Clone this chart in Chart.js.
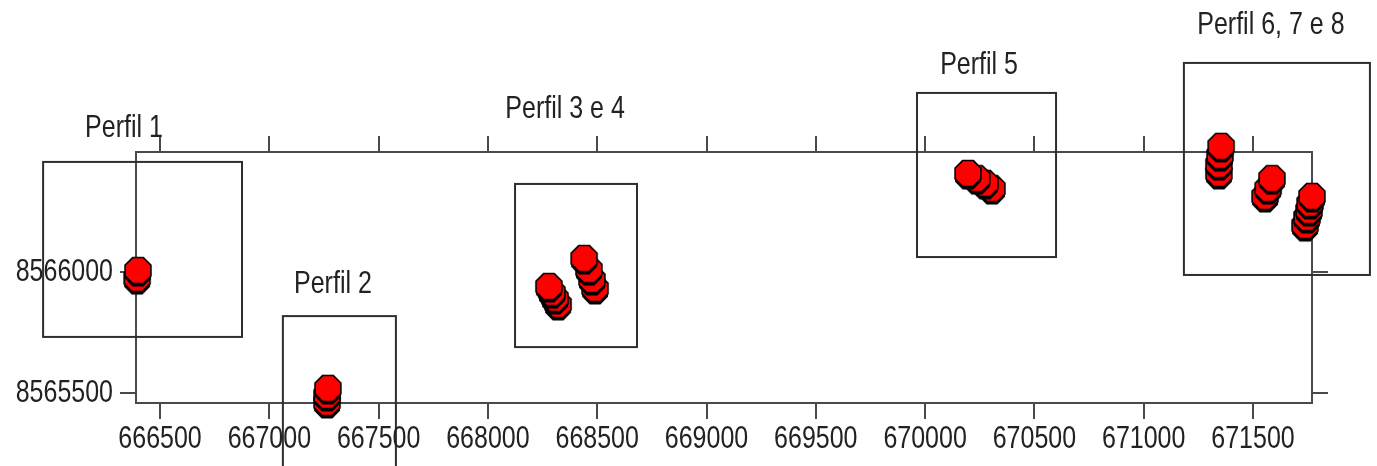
<!DOCTYPE html>
<html>
<head>
<meta charset="utf-8">
<script src="https://cdn.jsdelivr.net/npm/chart.js@4"></script>
<style>
  html, body { margin:0; padding:0; background:#fff; }
  #wrap { position:relative; width:1377px; height:466px; }
</style>
</head>
<body>
<div id="wrap"><canvas id="perfisChart"></canvas></div>
<script>
/* ── data ── */
const X_TICKS = [666500,667000,667500,668000,668500,669000,669500,670000,670500,671000,671500];
const Y_TICKS = [8565500,8566000];

// stacked markers per profile, deepest first so the top one is drawn last
const POINT_X = [666395,666399, 667264,667264,667268, 668321,668307,668293,668279,
                 668490,668476,668462,668440, 670306,670274,670237,670196,
                 671344,671344,671349,671354, 671555,671569,671587,
                 671738,671747,671756,671761,671770];
const POINT_Y = [8565967,8566000, 8565455,8565484,8565513, 8565860,8565885,8565909,8565934,
                 8565926,8565963,8566004,8566050, 8566339,8566360,8566380,8566401,
                 8566401,8566438,8566475,8566513, 8566306,8566339,8566380,
                 8566186,8566219,8566248,8566277,8566306];

// profile frames (data coords)
const BOX_X1 = [665965,667062,668124,669963,671184];
const BOX_X2 = [666875,667579,668682,670599,672035];
const BOX_Y1 = [8566455,8565818,8566364,8566740,8566864];
const BOX_Y2 = [8565732,8565141,8565690,8566062,8565988];
const LABELS  = ['Perfil 1','Perfil 2','Perfil 3 e 4','Perfil 5','Perfil 6, 7 e 8'];
const LABEL_X = [666335,667291,668353,670247,671582];
const LABEL_Y = [8566595,8565951,8566670,8566855,8567021];

const FONT = "'Liberation Sans',Arial,sans-serif";
const FSIZE = 25;
const STRETCH = 1.25;   // text in the original is drawn tall and narrow
const AXIS = '#4a4a4a';

/* ── octagon marker ── */
function octagonMarker() {
  const c = document.createElement('canvas');
  c.width = 34; c.height = 34;
  const g = c.getContext('2d');
  const oct = (cx, cy, r) => {
    g.beginPath();
    for (let i = 0; i < 8; i++) {
      const a = Math.PI/8 + i*Math.PI/4;
      const px = cx + r*Math.cos(a), py = cy + r*Math.sin(a);
      i ? g.lineTo(px,py) : g.moveTo(px,py);
    }
    g.closePath();
  };
  oct(17, 18.5, 14); g.fillStyle = '#000'; g.fill();
  oct(17, 15.5, 14); g.fillStyle = '#ff0000'; g.fill();
  g.lineWidth = 1.6; g.strokeStyle = '#000'; g.stroke();
  return c;
}

function tallText(ctx, text, px, py, align) {
  ctx.save();
  ctx.translate(px, py);
  ctx.scale(1, STRETCH);
  ctx.textAlign = align;
  ctx.textBaseline = 'middle';
  ctx.fillText(text, 0, 0);
  ctx.restore();
}

/* ── frames, profile names and tick labels ── */
const framesPlugin = {
  id:'frames',
  afterDraw(chart) {
    const { ctx, scales:{x, y} } = chart;
    ctx.save();
    ctx.strokeStyle = '#2e2e2e';
    ctx.lineWidth = 2;
    BOX_X1.forEach((_, i) => {
      const l = x.getPixelForValue(BOX_X1[i]), r = x.getPixelForValue(BOX_X2[i]);
      const t = y.getPixelForValue(BOX_Y1[i]), b = y.getPixelForValue(BOX_Y2[i]);
      ctx.strokeRect(l, t, r-l, b-t);
    });
    ctx.fillStyle = '#222';
    ctx.font = `${FSIZE}px ${FONT}`;
    LABELS.forEach((t, i) => tallText(ctx, t, x.getPixelForValue(LABEL_X[i]), y.getPixelForValue(LABEL_Y[i]), 'center'));
    x.ticks.forEach(t => tallText(ctx, String(t.value), x.getPixelForValue(t.value), x.top + 36, 'center'));
    y.ticks.forEach(t => tallText(ctx, String(t.value), y.right - 23, y.getPixelForValue(t.value), 'right'));
    ctx.restore();
  }
};

function axis(position, ticksArr, size, extra) {
  const horiz = position === 'top' || position === 'bottom';
  return Object.assign({
    type:'linear', position, z:1,
    afterBuildTicks: s => { s.ticks = ticksArr.map(v => ({ value:v })); },
    afterFit: s => { if (horiz) s.height = size; else s.width = size; },
    grid:{ display:true, drawOnChartArea:false, drawTicks:true, tickLength:16, color:AXIS, lineWidth:2 },
    border:{ display:true, color:AXIS, width:2 },
    ticks:{ display:false }
  }, extra);
}

function buildChart() {
  const ctx = document.getElementById('perfisChart').getContext('2d');
  new Chart(ctx, {
    type:'scatter',
    data:{
      datasets:[{
        label:'Perfis',
        data: POINT_X.map((v, i) => ({ x:v, y:POINT_Y[i] })),
        pointStyle: octagonMarker(),
        radius:14, hoverRadius:14,
        clip:false
      }]
    },
    options:{
      responsive:true, maintainAspectRatio:false, animation:false,
      layout:{ padding:0 },
      plugins:{ legend:{ display:false }, tooltip:{ enabled:false } },
      scales:{
        x:  axis('bottom', X_TICKS, 63,  { min:666390, max:671770 }),
        x2: axis('top',    X_TICKS, 152, { min:666390, max:671770 }),
        y:  axis('left',   Y_TICKS, 136, { min:8565459, max:8566496 }),
        y2: axis('right',  Y_TICKS, 65,  { min:8565459, max:8566496 })
      }
    },
    plugins:[framesPlugin]
  });
}

window.addEventListener('DOMContentLoaded', buildChart);
</script>
</body>
</html>
